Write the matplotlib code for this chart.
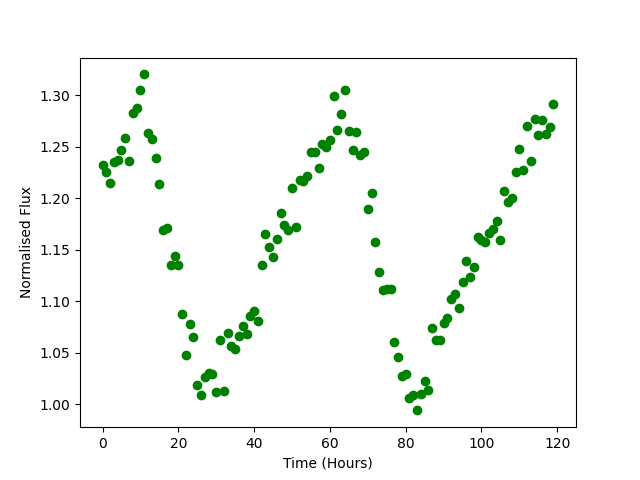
import numpy as np
import matplotlib
matplotlib.use('Agg')
import matplotlib.pyplot as plt

hours = np.arange(120)
flux = [1.232, 1.225, 1.215, 1.235, 1.237, 1.247, 1.258, 1.236, 1.283, 1.287,
        1.305, 1.320, 1.263, 1.257, 1.239, 1.214, 1.169, 1.171, 1.135, 1.144,
        1.135, 1.088, 1.048, 1.078, 1.065, 1.019, 1.009, 1.026, 1.030, 1.029,
        1.012, 1.062, 1.013, 1.069, 1.056, 1.054, 1.066, 1.076, 1.068, 1.086,
        1.090, 1.081, 1.135, 1.165, 1.153, 1.143, 1.160, 1.186, 1.174, 1.169,
        1.210, 1.172, 1.218, 1.217, 1.221, 1.245, 1.245, 1.229, 1.252, 1.250,
        1.256, 1.299, 1.266, 1.282, 1.305, 1.265, 1.247, 1.264, 1.242, 1.245,
        1.189, 1.205, 1.157, 1.128, 1.111, 1.112, 1.112, 1.060, 1.046, 1.027,
        1.029, 1.006, 1.009, 0.994, 1.010, 1.023, 1.014, 1.074, 1.062, 1.062,
        1.079, 1.084, 1.102, 1.107, 1.093, 1.119, 1.139, 1.123, 1.133, 1.162,
        1.159, 1.157, 1.166, 1.170, 1.178, 1.159, 1.207, 1.196, 1.200, 1.225,
        1.248, 1.227, 1.270, 1.236, 1.277, 1.261, 1.276, 1.262, 1.269, 1.291]

fig = plt.figure(figsize=(6.4, 4.8), dpi=100)
plt.plot(hours, flux, 'o', color='green')
plt.xlabel('Time (Hours)')
plt.ylabel('Normalised Flux')
plt.savefig('out.png')
